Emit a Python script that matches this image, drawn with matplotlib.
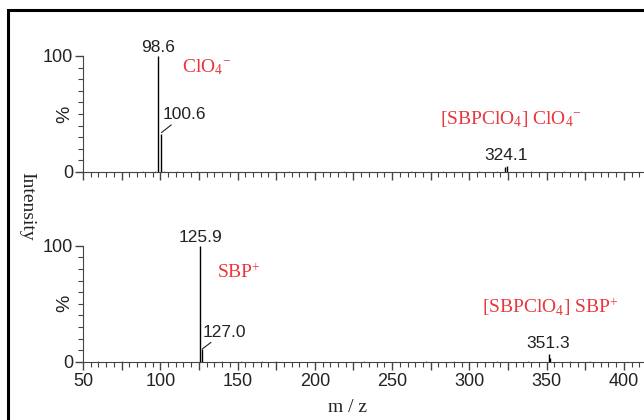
import matplotlib.pyplot as plt
from matplotlib.patches import Rectangle
from matplotlib.ticker import MultipleLocator, FuncFormatter

# top spectrum (negative mode)
top_mz = [98.6, 100.6, 323.3, 324.1]
top_int = [100, 33, 4, 5]
top_noise_mz = [89.0, 96.5, 102.5, 111.0, 124.0, 183.0, 219.0, 262.0, 283.0, 306.0, 318.0, 340.0, 361.0, 372.0]
top_noise_int = [1.0, 1.2, 0.8, 0.6, 0.5, 0.6, 0.5, 0.8, 0.5, 0.7, 1.0, 0.7, 0.8, 0.6]

# bottom spectrum (positive mode)
bot_mz = [125.9, 127.0, 351.3, 352.4]
bot_int = [100, 11, 7, 3]
bot_noise_mz = [60.0, 75.0, 140.0, 152.0, 166.0, 175.0, 232.0, 272.0, 290.0, 318.0, 338.0, 365.0, 378.0]
bot_noise_int = [0.6, 0.6, 0.9, 0.8, 0.7, 0.6, 0.7, 0.8, 0.6, 0.7, 0.7, 0.6, 0.6]

xmin, xmax = 50, 413

sans = 'Liberation Sans'
serif = 'Liberation Serif'
red = '#e8383d'

plt.rcParams['mathtext.fontset'] = 'custom'
plt.rcParams['mathtext.rm'] = serif
plt.rcParams['mathtext.it'] = serif

fig = plt.figure(figsize=(6.44, 4.20), dpi=100)
W, H = 644, 420

# outer frame (runs off the right and bottom edge)
fig.patches.append(Rectangle((8 / W, -0.1), 1.2, 1 - 10 / H + 0.1, transform=fig.transFigure,
                             fill=False, lw=2.2, ec='black'))

def px_axes(bottom_px):
    return fig.add_axes([83 / W, 1 - bottom_px / H, (W - 83) / W, 116 / H])

ax1 = px_axes(172)
ax2 = px_axes(361.7)

for ax, mz, inten, nmz, nint in [(ax1, top_mz, top_int, top_noise_mz, top_noise_int),
                                 (ax2, bot_mz, bot_int, bot_noise_mz, bot_noise_int)]:
    ax.vlines(nmz, 0, nint, color='#777777', lw=0.8)
    ax.vlines(mz, 0, inten, color='black', lw=1.0)
    ax.set_xlim(xmin, xmax)
    ax.set_ylim(0, 100)
    for s in ['top', 'right']:
        ax.spines[s].set_visible(False)
    ax.spines['left'].set_color('#444444')
    ax.spines['bottom'].set_color('#444444')
    ax.patch.set_alpha(0)
    ax.xaxis.set_major_locator(MultipleLocator(25))
    ax.xaxis.set_minor_locator(MultipleLocator(5))
    ax.yaxis.set_major_locator(MultipleLocator(100))
    ax.yaxis.set_minor_locator(MultipleLocator(10))
    ax.tick_params(axis='x', which='major', length=6, width=1, color='#444444')
    ax.tick_params(axis='x', which='minor', length=3.5, width=0.8, color='#444444')
    ax.tick_params(axis='y', which='major', length=6, width=1, color='#444444', pad=1)
    ax.tick_params(axis='y', which='minor', length=3.5, width=0.8, color='#444444')
    for lab in ax.get_yticklabels():
        lab.set_fontfamily(sans)
        lab.set_fontsize(13)
        lab.set_color('#222222')
    ax.text(-0.033, 50, '%', transform=ax.get_yaxis_transform(), rotation=90,
            ha='center', va='center', fontsize=14, family=sans, color='#222222')

ax1.xaxis.set_major_formatter(FuncFormatter(lambda v, p: ''))
ax2.xaxis.set_major_formatter(FuncFormatter(lambda v, p: '%d' % v if v % 50 == 0 else ''))
for lab in ax2.get_xticklabels():
    lab.set_fontfamily(sans)
    lab.set_fontsize(13)
    lab.set_color('#222222')
ax2.tick_params(axis='x', which='major', pad=2)

# peak labels
pk = dict(fontsize=12.5, family=sans, color='#222222')
ax1.text(98.6, 101, '98.6', ha='center', va='bottom', **pk)
ax1.annotate('100.6', xy=(100.8, 34), xytext=(101.5, 43), ha='left', va='bottom',
             arrowprops=dict(arrowstyle='-', lw=0.8, color='#222222', shrinkA=0, shrinkB=0), **pk)
ax1.text(324.1, 8, '324.1', ha='center', va='bottom', **pk)
ax2.text(125.9, 101, '125.9', ha='center', va='bottom', **pk)
ax2.annotate('127.0', xy=(127.2, 11), xytext=(127.5, 19), ha='left', va='bottom',
             arrowprops=dict(arrowstyle='-', lw=0.8, color='#222222', shrinkA=0, shrinkB=0), **pk)
ax2.text(351.3, 9, '351.3', ha='center', va='bottom', **pk)

# species labels
sp = dict(fontsize=14, family=serif, color=red, ha='center', va='center')
ax1.text(130, 90, r'ClO$_4{}^{\mathdefault{-}}$', **sp)
ax1.text(327, 46, r'[SBPClO$_4$] ClO$_4{}^{\mathdefault{-}}$', **sp)
ax2.text(151, 77, r'SBP$^{+}$', **sp)
ax2.text(352, 47, r'[SBPClO$_4$] SBP$^{+}$', **sp)

fig.text(27 / W, 1 - 206 / H, 'Intensity', rotation=-90, ha='center', va='center',
         fontsize=14, family=serif, color='#222222')
fig.text(348 / W, 1 - 408 / H, 'm / z', ha='center', va='center',
         fontsize=14, family=serif, color='#222222')

fig.savefig('out.png', dpi=100)
